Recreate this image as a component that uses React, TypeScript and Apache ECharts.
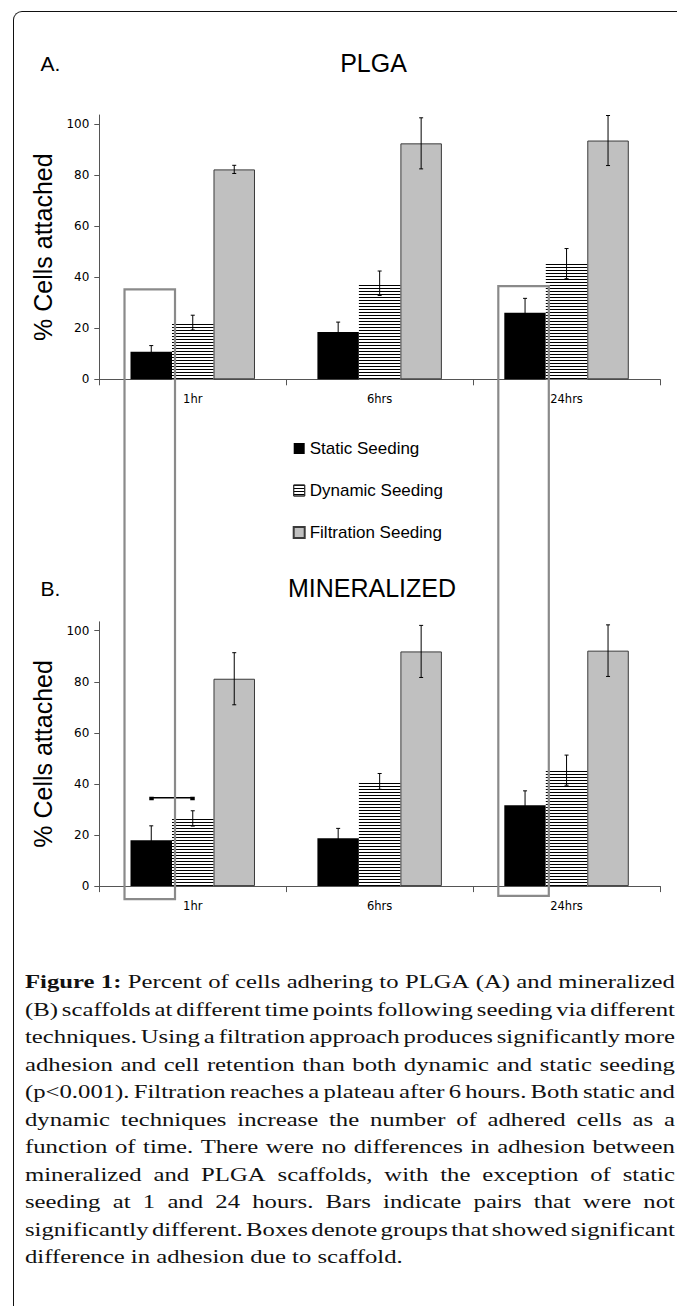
import React, { useEffect, useRef } from "react";
import * as echarts from "echarts";

// ---------- data ----------
const categories = ["1hr", "6hrs", "24hrs"];
const seriesNames = ["Static Seeding", "Dynamic Seeding", "Filtration Seeding"];
const yTicks = [0, 20, 40, 60, 80, 100];

// Panel A: PLGA
const plgaStatic = [10.8, 18.5, 26.1];
const plgaStaticErr = [2.4, 3.9, 5.6];
const plgaDynamic = [22.2, 37.6, 45.3];
const plgaDynamicErr = [2.9, 4.8, 5.9];
const plgaFiltration = [82.2, 92.4, 93.5];
const plgaFiltrationErr = [1.6, 10.0, 9.8];

// Panel B: MINERALIZED
const minStatic = [18.0, 18.7, 31.7];
const minStaticErr = [5.6, 3.9, 5.6];
const minDynamic = [26.5, 41.0, 45.4];
const minDynamicErr = [3.0, 3.1, 5.9];
const minFiltration = [81.2, 91.9, 92.2];
const minFiltrationErr = [10.2, 10.2, 10.1];

// "not significantly different" bracket in panel B: [category, fromSeries, toSeries, level]
const minBrackets = [[0, 0, 1, 34.6]];

// boxes spanning both panels: category index, top value (panel A), bottom value (panel B)
const boxCategories = [0, 2];
const boxTopValues = [35.2, 36.5];
const boxBottomValues = [-5.1, -3.8];

const captionLines = [
  "Figure 1: Percent of cells adhering to PLGA (A) and mineralized",
  "(B) scaffolds at different time points following seeding via different",
  "techniques. Using a filtration approach produces significantly more",
  "adhesion and cell retention than both dynamic and static seeding",
  "(p<0.001). Filtration reaches a plateau after 6 hours. Both static and",
  "dynamic techniques increase the number of adhered cells as a",
  "function of time. There were no differences in adhesion between",
  "mineralized and PLGA scaffolds, with the exception of static",
  "seeding at 1 and 24 hours. Bars indicate pairs that were not",
  "significantly different. Boxes denote groups that showed significant",
  "difference in adhesion due to scaffold.",
];

// ---------- styling ----------
const CAT_GAP = 0.334;
const Y_MAX = 103.5;
const AXIS_COLOR = "#555";
const SANS = "'Liberation Sans', Arial, sans-serif";
const TICK_FONT = "'DejaVu Sans', sans-serif";
const CAPTION_SCALE = 1.3;

const stripeDecal = {
  symbol: "rect",
  symbolSize: 1,
  dashArrayX: [1, 0],
  dashArrayY: [1, 2],
  rotation: 0,
  color: "#000",
  backgroundColor: "#fff",
};

const barStyles = [
  { color: "#000" },
  { color: "#fff", decal: stripeDecal },
  { color: "#c0c0c0", borderColor: "#3a3a3a", borderWidth: 1 },
];

function errData(vals: number[][], errs: number[][]) {
  const out: number[][] = [];
  vals.forEach((arr, s) =>
    arr.forEach((v, c) => out.push([c, v, errs[s][c], s]))
  );
  return out;
}

function errorRender(params: any, api: any) {
  const c = api.value(0);
  const v = api.value(1);
  const e = api.value(2);
  const s = api.value(3);
  const band = api.size([1, 0])[0];
  const bw = (band * (1 - CAT_GAP)) / 3;
  const cx = api.coord([c, v])[0] + (s - 1) * bw;
  const yt = api.coord([c, v + e])[1];
  const yb = api.coord([c, v - e])[1];
  const st = { stroke: "#000", lineWidth: 1 };
  return {
    type: "group",
    children: [
      { type: "line", shape: { x1: cx, y1: yt, x2: cx, y2: yb }, style: st },
      { type: "line", shape: { x1: cx - 2, y1: yt, x2: cx + 2, y2: yt }, style: st },
      { type: "line", shape: { x1: cx - 2, y1: yb, x2: cx + 2, y2: yb }, style: st },
    ],
  };
}

function bracketRender(params: any, api: any) {
  const c = api.value(0);
  const s1 = api.value(1);
  const s2 = api.value(2);
  const lv = api.value(3);
  const band = api.size([1, 0])[0];
  const bw = (band * (1 - CAT_GAP)) / 3;
  const p = api.coord([c, lv]);
  const x1 = p[0] + (s1 - 1) * bw;
  const x2 = p[0] + (s2 - 1) * bw;
  const y = p[1];
  return {
    type: "group",
    children: [
      { type: "line", shape: { x1, y1: y, x2, y2: y }, style: { stroke: "#000", lineWidth: 1.6 } },
      { type: "rect", shape: { x: x1 - 2, y: y - 1, width: 4.5, height: 3.5 }, style: { fill: "#000" } },
      { type: "rect", shape: { x: x2 - 2.5, y: y - 1, width: 4.5, height: 3.5 }, style: { fill: "#000" } },
    ],
  };
}

function axesFor(idx: number) {
  return {
    x: {
      type: "category",
      gridIndex: idx,
      data: categories,
      axisLine: { lineStyle: { color: AXIS_COLOR, width: 1 } },
      axisTick: { show: true, length: 6, lineStyle: { color: AXIS_COLOR } },
      axisLabel: { color: "#000", fontSize: 11.5, fontFamily: TICK_FONT, margin: 14 },
    },
    y: {
      type: "value",
      gridIndex: idx,
      min: 0,
      max: Y_MAX,
      interval: 20,
      splitLine: { show: false },
      axisLine: { show: true, lineStyle: { color: AXIS_COLOR, width: 1 } },
      axisTick: { show: true, length: 5, customValues: yTicks, lineStyle: { color: AXIS_COLOR } },
      axisLabel: { color: "#000", fontSize: 12, fontFamily: TICK_FONT, margin: 10, customValues: yTicks },
      name: "% Cells attached",
      nameLocation: "middle",
      nameGap: 20,
      nameTextStyle: { fontSize: 25, fontFamily: SANS, color: "#000" },
    },
  };
}

export default function App() {
  const ref = useRef<HTMLDivElement>(null);

  useEffect(() => {
    if (!ref.current) return;
    const chart = echarts.init(ref.current, null, { renderer: "svg" });

    const a0 = axesFor(0);
    const a1 = axesFor(1);
    const panels = [
      { vals: [plgaStatic, plgaDynamic, plgaFiltration], errs: [plgaStaticErr, plgaDynamicErr, plgaFiltrationErr] },
      { vals: [minStatic, minDynamic, minFiltration], errs: [minStaticErr, minDynamicErr, minFiltrationErr] },
    ];

    const series: any[] = [];
    panels.forEach((p, gi) => {
      p.vals.forEach((vals, s) => {
        series.push({
          type: "bar",
          name: seriesNames[s],
          xAxisIndex: gi,
          yAxisIndex: gi,
          data: vals,
          barGap: "0%",
          barCategoryGap: CAT_GAP * 100 + "%",
          itemStyle: barStyles[s],
          emphasis: { disabled: true },
          z: 2,
        });
      });
      series.push({
        type: "custom",
        name: "err" + gi,
        xAxisIndex: gi,
        yAxisIndex: gi,
        data: errData(p.vals, p.errs),
        renderItem: errorRender,
        silent: true,
        z: 5,
      });
    });
    series.push({
      type: "custom",
      name: "bracket",
      xAxisIndex: 1,
      yAxisIndex: 1,
      data: minBrackets,
      renderItem: bracketRender,
      silent: true,
      z: 6,
    });

    const textEls = [
      { type: "text", x: 50.5, y: 63, style: { text: "A.", font: `21px ${SANS}`, fill: "#000", align: "center", verticalAlign: "middle" } },
      { type: "text", x: 373.5, y: 63, style: { text: "PLGA", font: `25px ${SANS}`, fill: "#000", align: "center", verticalAlign: "middle" } },
      { type: "text", x: 50.5, y: 588, style: { text: "B.", font: `21px ${SANS}`, fill: "#000", align: "center", verticalAlign: "middle" } },
      { type: "text", x: 372, y: 588, style: { text: "MINERALIZED", font: `25px ${SANS}`, fill: "#000", align: "center", verticalAlign: "middle" } },
    ];

    chart.setOption({
      animation: false,
      backgroundColor: "transparent",
      grid: [
        { left: 99.3, right: 17, top: 115, height: 264.3 },
        { left: 99.3, right: 17, top: 621.8, height: 264.3 },
      ],
      xAxis: [a0.x, a1.x],
      yAxis: [a0.y, a1.y],
      legend: {
        data: [
          { name: seriesNames[0] },
          { name: seriesNames[1], itemStyle: { borderColor: "#333", borderWidth: 1 } },
          { name: seriesNames[2] },
        ],
        orient: "vertical",
        left: 292.7,
        top: 440,
        padding: 0,
        itemWidth: 11,
        itemHeight: 11,
        itemGap: 25,
        icon: "rect",
        selectedMode: false,
        textStyle: { fontSize: 17, lineHeight: 17, fontFamily: SANS, color: "#000" },
      },
      series,
      graphic: textEls,
    });

    // boxes spanning both panels, located through the axes
    const boxEls = boxCategories.map((c, i) => {
      const cx = chart.convertToPixel({ xAxisIndex: 0 }, c) as number;
      const cx1 = chart.convertToPixel({ xAxisIndex: 0 }, c + 1 > 2 ? c - 1 : c + 1) as number;
      const band = Math.abs(cx1 - cx);
      const bw = (band * (1 - CAT_GAP)) / 3;
      const sc = cx - bw;
      const left = sc - bw / 2 - 6;
      const right = sc + bw / 2 + 3;
      const top = chart.convertToPixel({ yAxisIndex: 0 }, boxTopValues[i]) as number;
      const bottom = chart.convertToPixel({ yAxisIndex: 1 }, boxBottomValues[i]) as number;
      return {
        type: "rect",
        z: 100,
        shape: { x: left, y: top, width: right - left, height: bottom - top },
        style: { fill: "none", stroke: "#8a8a8a", lineWidth: 2.2 },
        silent: true,
      };
    });

    chart.setOption({ graphic: [...textEls, ...boxEls] });

    return () => chart.dispose();
  }, []);

  const last = captionLines.length - 1;
  return (
    <div
      style={{
        position: "absolute",
        left: 0,
        top: 0,
        width: 677,
        height: 1306,
        overflow: "hidden",
        background: "#fff",
      }}
    >
      <div
        style={{
          position: "absolute",
          left: 12.5,
          top: 11,
          width: 720,
          height: 1400,
          borderLeft: "1.5px solid #111",
          borderTop: "1.5px solid #111",
          borderTopLeftRadius: 9,
          boxSizing: "border-box",
        }}
      />
      <div ref={ref} style={{ position: "absolute", left: 0, top: 0, width: 677, height: 960 }} />
      <div
        style={{
          position: "absolute",
          left: 25,
          top: 968,
          width: 650 / CAPTION_SCALE,
          transform: `scaleX(${CAPTION_SCALE})`,
          transformOrigin: "0 0",
          fontFamily: "'Liberation Serif', 'Times New Roman', serif",
          fontSize: 19,
          lineHeight: "27.5px",
          color: "#111",
        }}
      >
        {captionLines.map((ln, i) => {
          if (i === last) {
            return <div key={i} style={{ height: 27.5, whiteSpace: "nowrap" }}>{ln}</div>;
          }
          const words = ln.split(" ");
          return (
            <div
              key={i}
              style={{ display: "flex", justifyContent: "space-between", flexWrap: "nowrap", height: 27.5, whiteSpace: "nowrap" }}
            >
              {words.map((w, k) => (
                <span key={k} style={{ fontWeight: i === 0 && k < 2 ? "bold" : "normal" }}>
                  {w}
                </span>
              ))}
            </div>
          );
        })}
      </div>
    </div>
  );
}
